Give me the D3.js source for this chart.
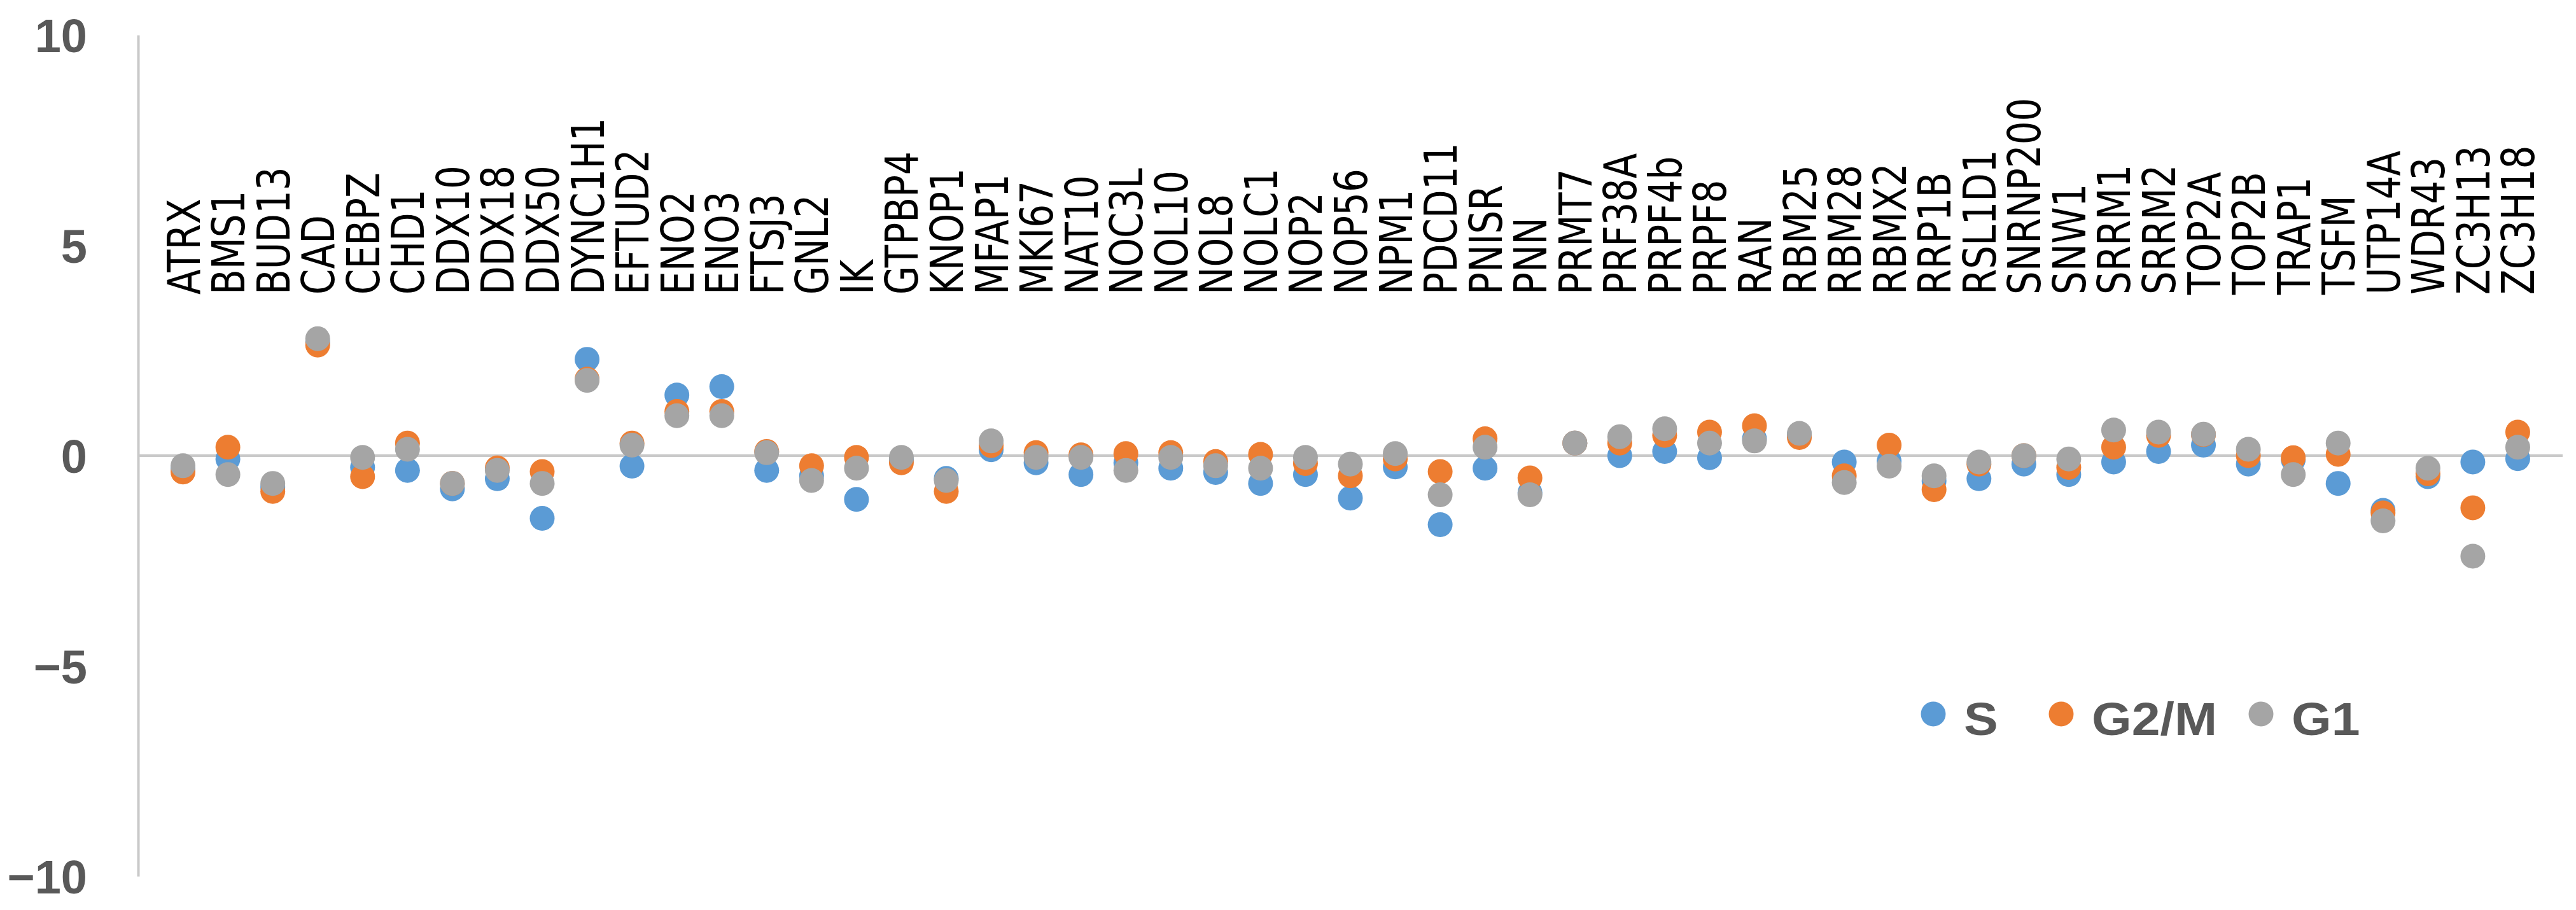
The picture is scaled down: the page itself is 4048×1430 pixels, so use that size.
<!DOCTYPE html>
<html>
<head>
<meta charset="utf-8">
<script src="https://cdn.jsdelivr.net/npm/d3@7"></script>
<style>
  html, body { margin: 0; padding: 0; background: #ffffff; }
  svg { display: block; }
</style>
</head>
<body>
<script>
const categories = ["ATRX","BMS1","BUD13","CAD","CEBPZ","CHD1","DDX10","DDX18","DDX50","DYNC1H1",
  "EFTUD2","ENO2","ENO3","FTSJ3","GNL2","IK","GTPBP4","KNOP1","MFAP1","MKI67",
  "NAT10","NOC3L","NOL10","NOL8","NOLC1","NOP2","NOP56","NPM1","PDCD11","PNISR",
  "PNN","PRMT7","PRF38A","PRPF4b","PRPF8","RAN","RBM25","RBM28","RBMX2","RRP1B",
  "RSL1D1","SNRNP200","SNW1","SRRM1","SRRM2","TOP2A","TOP2B","TRAP1","TSFM","UTP14A",
  "WDR43","ZC3H13","ZC3H18"];

const sValues = [-0.30,-0.08,-0.75,2.70,-0.28,-0.35,-0.79,-0.55,-1.49,2.29,
  -0.25,1.44,1.64,-0.35,-0.48,-1.04,-0.10,-0.54,0.14,-0.17,
  -0.45,-0.17,-0.30,-0.40,-0.66,-0.45,-1.01,-0.27,-1.64,-0.30,
  -0.88,0.30,0.00,0.10,-0.05,0.40,0.50,-0.15,-0.13,-0.60,
  -0.55,-0.20,-0.45,-0.15,0.10,0.25,-0.20,-0.10,-0.66,-1.30,
  -0.50,-0.15,-0.07];

const g2mValues = [-0.39,0.20,-0.85,2.63,-0.50,0.30,-0.66,-0.29,-0.38,1.82,
  0.30,1.05,1.05,0.10,-0.24,-0.04,-0.17,-0.85,0.24,0.07,
  0.02,0.05,0.07,-0.14,0.03,-0.19,-0.48,-0.08,-0.38,0.40,
  -0.53,0.30,0.30,0.48,0.56,0.71,0.43,-0.48,0.25,-0.81,
  -0.20,0.00,-0.28,0.20,0.48,0.50,0.00,-0.05,0.03,-1.36,
  -0.43,-1.24,0.56];

const g1Values = [-0.24,-0.45,-0.66,2.78,-0.04,0.15,-0.66,-0.35,-0.66,1.79,
  0.25,0.95,0.95,0.07,-0.59,-0.30,-0.04,-0.59,0.35,-0.04,
  -0.04,-0.35,-0.04,-0.24,-0.30,-0.04,-0.20,0.05,-0.93,0.20,
  -0.93,0.30,0.45,0.64,0.30,0.35,0.53,-0.64,-0.25,-0.48,
  -0.15,0.00,-0.08,0.61,0.56,0.51,0.15,-0.45,0.30,-1.55,
  -0.30,-2.39,0.20];

const seriesNames = ["S","G2/M","G1"];
const seriesColors = ["#5B9BD5","#ED7D31","#A5A5A5"];
const yTicks = [-10,-5,0,5,10];

const W = 4048, H = 1430;
const svg = d3.select("body").append("svg").attr("width", W).attr("height", H);

const x = d3.scaleLinear().domain([0, categories.length + 1]).range([217, 4027]);
const y = d3.scaleLinear().domain([-10, 10]).range([1377, 55]);

// y axis
const yAxis = d3.axisLeft(y).tickValues(yTicks).tickSize(0).tickPadding(80).tickFormat(d3.format("d"));
const gy = svg.append("g").attr("transform", `translate(${x(0)},0)`).call(yAxis);
gy.select(".domain").attr("stroke", "#c9c9c9").attr("stroke-width", 4);
gy.selectAll(".tick text")
  .attr("font-family", "'Liberation Sans', Arial, sans-serif")
  .attr("font-weight", "bold")
  .attr("font-size", 74)
  .attr("fill", "#595959")
  .attr("dy", "0.36em");

// zero line
svg.append("line")
  .attr("x1", x(0)).attr("x2", x(categories.length + 1))
  .attr("y1", y(0)).attr("y2", y(0))
  .attr("stroke", "#c9c9c9").attr("stroke-width", 4);

// category labels (rotated)
const labelSize = 58, labelScale = 1.23;
svg.append("g").selectAll("text")
  .data(categories)
  .join("text")
  .attr("transform", (d, i) => `translate(${x(i + 1)},463) scale(${labelScale},1) rotate(-90)`)
  .attr("x", 0)
  .attr("y", labelSize * 0.3645)
  .attr("font-family", "'DejaVu Sans', Verdana, sans-serif")
  .attr("font-size", labelSize)
  .attr("fill", "#000")
  .text(d => d);

// points
const allSeries = [sValues, g2mValues, g1Values];
allSeries.forEach((vals, si) => {
  svg.append("g").selectAll("circle")
    .data(vals)
    .join("circle")
    .attr("cx", (d, i) => x(i + 1))
    .attr("cy", d => y(d))
    .attr("r", 19.5)
    .attr("fill", seriesColors[si]);
});

// legend
const legendX = [3038, 3239, 3553];
const legend = svg.append("g");
seriesNames.forEach((name, i) => {
  legend.append("circle")
    .attr("cx", legendX[i]).attr("cy", 1122).attr("r", 19.5)
    .attr("fill", seriesColors[i]);
  legend.append("text")
    .attr("transform", `translate(${legendX[i] + 48},1155) scale(1.12,1)`)
    .attr("font-family", "'Liberation Sans', Arial, sans-serif")
    .attr("font-weight", "bold")
    .attr("font-size", 72)
    .attr("fill", "#595959")
    .text(name);
});
</script>
</body>
</html>
